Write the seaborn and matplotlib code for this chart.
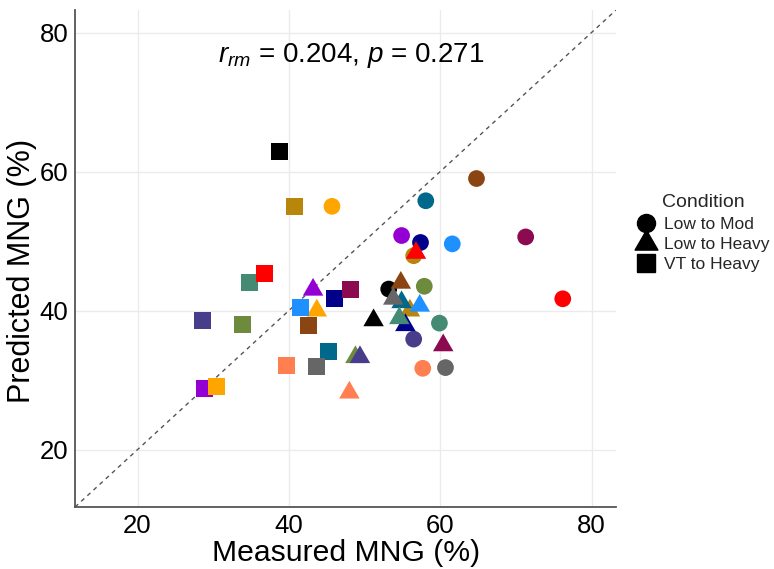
import matplotlib
matplotlib.use("Agg")
import matplotlib.pyplot as plt
from matplotlib.lines import Line2D
from matplotlib.path import Path
import numpy as np
import pandas as pd
import seaborn as sns

# Participants and their colours
subjects = ["S01", "S02", "S03", "S04", "S05", "S06", "S07", "S08",
            "S09", "S10", "S11", "S12", "S13", "S14", "S15"]
subject_colors = ["#000000", "#B8860B", "#00008B", "#00688B", "#6E8B3D",
                  "#483D8B", "#9400D3", "#8B0A50", "#8B4513", "#666666",
                  "#458B74", "#1E90FF", "#FFA500", "#FF7F50", "#FF0000"]

conditions = ["Low to Mod", "Low to Heavy", "VT to Heavy"]

# Measured / predicted MNG (%) per participant for each condition
measured_low_mod = [53.2, 56.5, 57.4, 58.1, 57.9, 56.5, 54.9, 71.3,
                    64.8, 60.7, 59.9, 61.6, 45.7, 57.7, 76.2]
predicted_low_mod = [43.1, 47.9, 49.8, 55.8, 43.5, 35.9, 50.8, 50.6,
                     59.0, 31.8, 38.2, 49.6, 55.0, 31.7, 41.7]

measured_low_heavy = [51.2, 56.0, 55.4, 54.9, 48.8, 49.4, 43.2, 60.4,
                      54.8, 53.8, 54.6, 57.3, 43.7, 48.0, 56.8]
predicted_low_heavy = [38.6, 40.0, 37.9, 41.2, 33.3, 33.3, 43.0, 35.0,
                       44.0, 41.7, 38.9, 40.7, 40.0, 28.2, 48.3]

measured_vt_heavy = [38.8, 40.75, 46.0, 45.3, 33.9, 28.6, 28.8, 48.1,
                     42.6, 43.7, 34.8, 41.6, 30.4, 39.7, 36.8]
predicted_vt_heavy = [62.9, 55.0, 41.8, 34.1, 38.0, 38.6, 28.8, 43.0,
                      37.8, 32.0, 44.1, 40.5, 29.1, 32.1, 45.4]

axis_ticks = [20, 40, 60, 80]
stats_label = r"$r_{rm}$ = 0.204, $p$ = 0.271"

df = pd.concat([
    pd.DataFrame({"Subject": subjects, "Condition": conditions[0],
                  "Measured": measured_low_mod, "Predicted": predicted_low_mod}),
    pd.DataFrame({"Subject": subjects, "Condition": conditions[1],
                  "Measured": measured_low_heavy, "Predicted": predicted_low_heavy}),
    pd.DataFrame({"Subject": subjects, "Condition": conditions[2],
                  "Measured": measured_vt_heavy, "Predicted": predicted_vt_heavy}),
], ignore_index=True)

sns.set_theme(style="white")
plt.rcParams["font.family"] = ["Liberation Sans", "DejaVu Sans"]
plt.rcParams["mathtext.fontset"] = "custom"
plt.rcParams["mathtext.rm"] = "Liberation Sans"
plt.rcParams["mathtext.it"] = "Liberation Sans:italic"

# equilateral triangle centred on its centroid
tri = Path([(-1.0, -0.577), (1.0, -0.577), (0.0, 1.155), (-1.0, -0.577)],
           [Path.MOVETO, Path.LINETO, Path.LINETO, Path.CLOSEPOLY])
marker_map = {"Low to Mod": "o", "Low to Heavy": tri, "VT to Heavy": "s"}
size_map = {"Low to Mod": 145, "Low to Heavy": 290, "VT to Heavy": 150}

fig = plt.figure(figsize=(7.74, 5.69), dpi=100)
ax = fig.add_axes([0.097, 0.109, 0.699, 0.8735])

lims = (11.75, 83.25)
ax.set_xlim(lims)
ax.set_ylim(lims)
ax.set_xticks(axis_ticks)
ax.set_yticks(axis_ticks)
ax.grid(True, color="#EBEBEB", linewidth=1.0)
ax.set_axisbelow(True)

# identity line
ax.axline((lims[0], lims[0]), (lims[1], lims[1]), color="#555555",
          linewidth=1.0, linestyle=(0, (3, 3)), zorder=1)

sns.scatterplot(data=df, x="Measured", y="Predicted", hue="Subject",
                palette=dict(zip(subjects, subject_colors)),
                style="Condition", markers=marker_map,
                size="Condition", sizes=size_map,
                linewidth=0, edgecolor="none", alpha=1.0,
                legend=False, ax=ax, zorder=3)

for side in ["top", "right"]:
    ax.spines[side].set_visible(False)
for side in ["left", "bottom"]:
    ax.spines[side].set_color("#555555")
    ax.spines[side].set_linewidth(1.3)

ax.tick_params(axis="both", length=3, width=1, color="#555555",
               labelsize=18.5, labelcolor="black", pad=2)
ax.set_xlabel("Measured MNG (%)", fontsize=21.7, color="black", labelpad=1)
ax.set_ylabel("Predicted MNG (%)", fontsize=22, color="black")
ax.yaxis.set_label_coords(-0.071, 0.475)

ax.text(48.2, 76.7, stats_label, fontsize=20, ha="center", va="center",
        color="black")

handles = [Line2D([0], [0], marker=marker_map[c], color="black", linestyle="",
                  markersize=13 if c != "Low to Heavy" else 19)
           for c in conditions]
leg = fig.legend(handles, conditions, title="Condition", loc="center left",
                 bbox_to_anchor=(0.808, 0.59), frameon=False, fontsize=12.5,
                 title_fontsize=14, labelspacing=0.3, handlelength=1.0,
                 handletextpad=0.5, borderpad=0.2)

fig.savefig("out.png", dpi=100, facecolor="white")
